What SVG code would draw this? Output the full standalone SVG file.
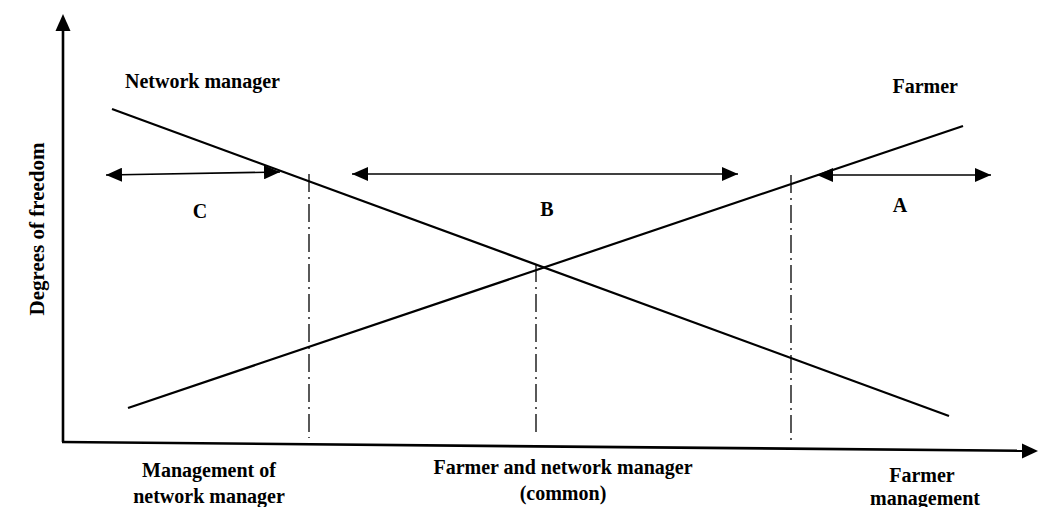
<svg xmlns="http://www.w3.org/2000/svg" width="1038" height="507" viewBox="0 0 1038 507">
<style>
.t{font-family:"Liberation Serif","Times New Roman",serif;font-weight:bold;font-size:20px;fill:#000}
.ln{stroke:#000;stroke-width:2.2;fill:none}
.ax{stroke:#000;stroke-width:2.6;fill:none}
.dd{stroke:#000;stroke-width:1.3;fill:none;stroke-dasharray:18,5,2,5}
.ar{stroke:#000;stroke-width:1.6;fill:none;marker-start:url(#ah);marker-end:url(#ah)}
</style>
<defs>
<marker id="ah" viewBox="0 0 16 14" refX="16" refY="7" markerWidth="16" markerHeight="14" markerUnits="userSpaceOnUse" orient="auto-start-reverse">
<path d="M0,0 L16,7 L0,14 Z" fill="#000"/>
</marker>
</defs>
<g id="axes">
<line class="ax" x1="63" y1="442" x2="63" y2="28"/>
<polygon points="63,14 55.5,31 70.5,31" fill="#000"/>
<line class="ax" x1="62" y1="442" x2="1024" y2="450.8"/>
<polygon points="1038,451 1022,443.5 1022,458.5" fill="#000"/>
</g>
<g id="connectors">
<line id="network-manager-line" class="ln" x1="112" y1="109" x2="949" y2="416"/>
<line id="farmer-line" class="ln" x1="128" y1="408" x2="963" y2="126"/>
<line class="dd" x1="309" y1="174" x2="309" y2="438"/>
<line class="dd" x1="536" y1="264" x2="536" y2="433"/>
<line class="dd" x1="791" y1="175" x2="791" y2="440"/>
<line id="arrow-c" class="ar" x1="106" y1="175" x2="280" y2="172"/>
<line id="arrow-b" class="ar" x1="352" y1="174" x2="738" y2="174"/>
<line id="arrow-a" class="ar" x1="817" y1="175" x2="991" y2="175"/>
</g>
<g id="label-network-manager"><text class="t" x="125" y="88">Network manager</text></g>
<g id="label-farmer"><text class="t" x="958" y="93" text-anchor="end">Farmer</text></g>
<g id="label-c"><text class="t" x="200" y="218" text-anchor="middle">C</text></g>
<g id="label-b"><text class="t" x="547" y="216" text-anchor="middle">B</text></g>
<g id="label-a"><text class="t" x="900" y="212" text-anchor="middle">A</text></g>
<g id="label-y"><text class="t" style="font-size:21px" transform="translate(44,229) rotate(-90)" text-anchor="middle">Degrees of freedom</text></g>
<g id="label-x1"><text class="t" text-anchor="middle"><tspan x="209" y="477">Management of</tspan><tspan x="209" y="503">network manager</tspan></text></g>
<g id="label-x2"><text class="t" text-anchor="middle"><tspan x="563" y="474">Farmer and network manager</tspan><tspan x="563" y="500">(common)</tspan></text></g>
<g id="label-x3"><text class="t" text-anchor="middle"><tspan x="922" y="482">Farmer</tspan><tspan x="925" y="505">management</tspan></text></g>
</svg>
